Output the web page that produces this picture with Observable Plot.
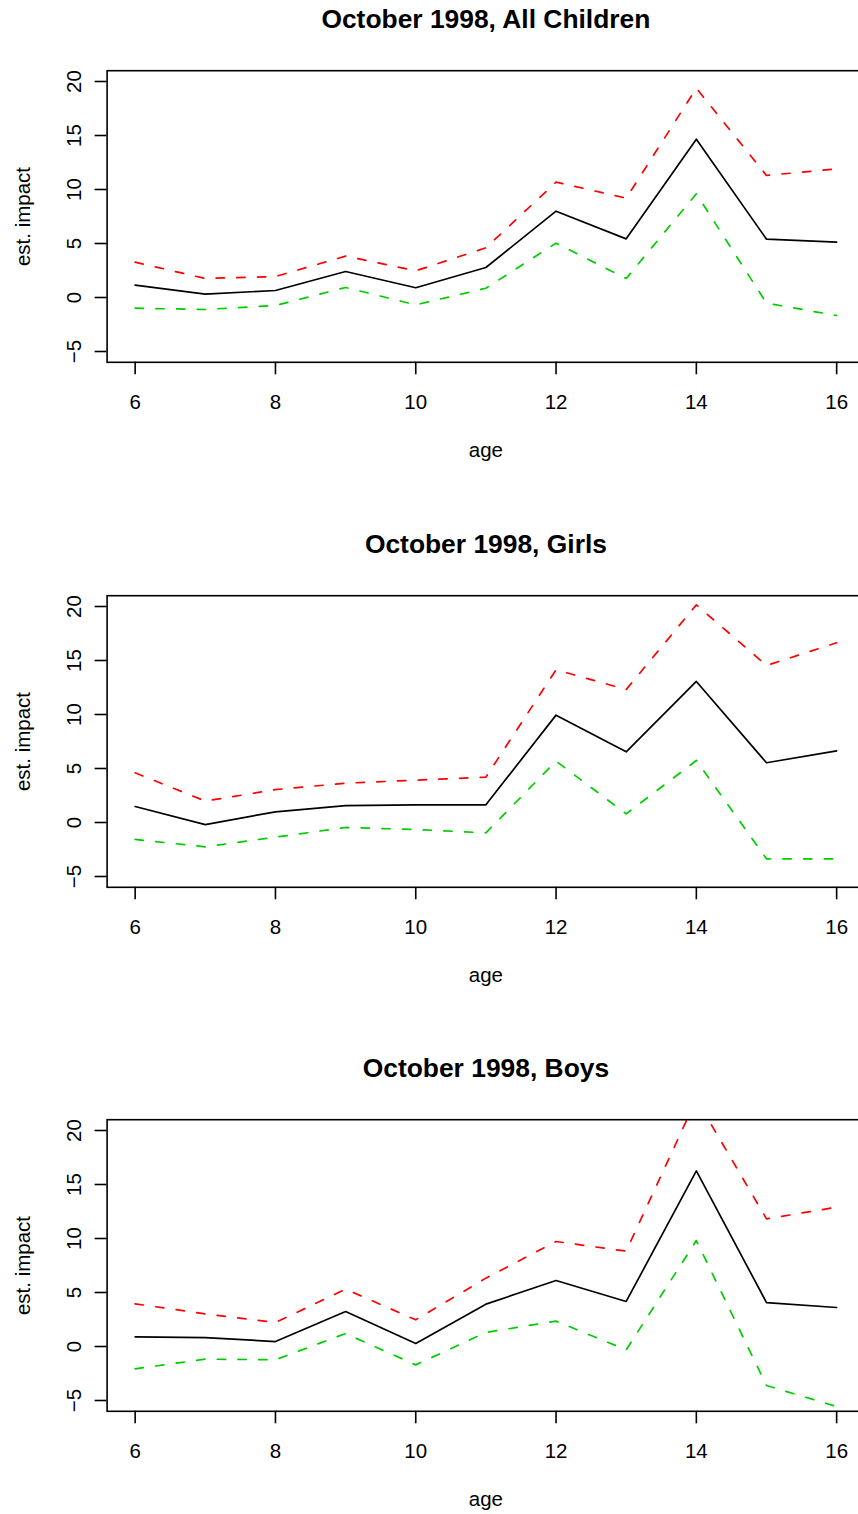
<!DOCTYPE html>
<html>
<head>
<meta charset="utf-8">
<script src="https://cdn.jsdelivr.net/npm/d3@7"></script>
<script src="https://cdn.jsdelivr.net/npm/@observablehq/plot@0.6"></script>
<style>
  html, body { margin: 0; padding: 0; background: white; overflow: hidden; width: 858px; height: 1514px; }
  .panel { position: absolute; left: 0; width: 858px; }
</style>
</head>
<body>
<div id="p0" class="panel" style="top:0px"></div>
<div id="p1" class="panel" style="top:525px"></div>
<div id="p2" class="panel" style="top:1049px"></div>
<script>
const ages = [6, 7, 8, 9, 10, 11, 12, 13, 14, 15, 16];

const allEst   = [1.14, 0.31, 0.65, 2.41, 0.90, 2.78, 7.99, 5.43, 14.66, 5.40, 5.12];
const allUpper = [3.27, 1.76, 1.94, 3.83, 2.47, 4.60, 10.68, 9.20, 19.38, 11.30, 11.91];
const allLower = [-0.99, -1.11, -0.74, 0.93, -0.68, 0.86, 5.03, 1.76, 9.60, -0.52, -1.67];

const girlsEst   = [1.48, -0.19, 0.99, 1.57, 1.64, 1.64, 9.94, 6.54, 13.06, 5.53, 6.64];
const girlsUpper = [4.60, 1.98, 3.05, 3.64, 3.92, 4.20, 14.14, 12.31, 20.15, 14.54, 16.64];
const girlsLower = [-1.57, -2.25, -1.36, -0.46, -0.65, -0.96, 5.68, 0.80, 5.74, -3.36, -3.36];

const boysEst   = [0.90, 0.83, 0.46, 3.24, 0.28, 3.92, 6.11, 4.17, 16.26, 4.07, 3.61];
const boysUpper = [3.95, 3.02, 2.22, 5.31, 2.47, 6.33, 9.72, 8.83, 22.9, 11.82, 12.90];
const boysLower = [-2.07, -1.17, -1.23, 1.20, -1.70, 1.30, 2.35, -0.31, 9.81, -3.61, -5.56];

const titles = ["October 1998, All Children", "October 1998, Girls", "October 1998, Boys"];
const xLabel = "age";
const yLabel = "est. impact";
const xTicks = [6, 8, 10, 12, 14, 16];
const yTicks = [-5, 0, 5, 10, 15, 20];

const panels = [
  {title: titles[0], est: allEst, upper: allUpper, lower: allLower},
  {title: titles[1], est: girlsEst, upper: girlsUpper, lower: girlsLower},
  {title: titles[2], est: boysEst, upper: boysUpper, lower: boysLower}
];

const font = "'Liberation Sans', Arial, Helvetica, sans-serif";
const fs = 20.5;
const mL = 106.6, mT = 70.2, mB = 163.2, mR = -6.2;

panels.forEach((p, k) => {
  const rows = ages.map((a, i) => ({age: a, est: p.est[i], upper: p.upper[i], lower: p.lower[i]}));
  const chart = Plot.plot({
    width: 858,
    height: 525,
    marginLeft: mL,
    marginRight: mR,
    marginTop: mT,
    marginBottom: mB,
    x: {domain: [5.6, 16.4]},
    y: {domain: [-6, 21]},
    style: {fontFamily: font, background: "white", color: "black"},
    marks: [
      Plot.line(rows, {x: "age", y: "est", stroke: "black", strokeWidth: 1.7, clip: true}),
      Plot.line(rows, {x: "age", y: "upper", stroke: "#FF0000", strokeWidth: 1.7, strokeDasharray: "8.3,12.4", clip: true}),
      Plot.line(rows, {x: "age", y: "lower", stroke: "#00CD00", strokeWidth: 1.7, strokeDasharray: "8.3,12.4", clip: true}),
      Plot.frame({stroke: "black", strokeWidth: 1.6}),
      Plot.axisX(xTicks, {tickSize: 12.5, tickFormat: () => "", label: null, strokeWidth: 1.6}),
      Plot.axisY(yTicks, {tickSize: 12, tickFormat: () => "", label: null, strokeWidth: 1.6}),
      Plot.text(xTicks, {x: d => d, frameAnchor: "bottom", lineAnchor: "bottom", dy: 46.6, fontSize: fs, text: d => String(d)}),
      Plot.text(yTicks, {y: d => d, frameAnchor: "left", rotate: -90, textAnchor: "middle", lineAnchor: "bottom", dx: -26.6, fontSize: fs, text: d => d < 0 ? "\u2212" + Math.abs(d) : String(d)}),
      Plot.text([yLabel], {frameAnchor: "left", rotate: -90, textAnchor: "middle", lineAnchor: "bottom", dx: -77.3, fontSize: fs, text: d => d}),
      Plot.text([xLabel], {frameAnchor: "bottom", lineAnchor: "bottom", dy: 94.2, fontSize: fs, text: d => d}),
      Plot.text([p.title], {frameAnchor: "top", lineAnchor: "bottom", dy: -42.7, fontSize: 26.4, fontWeight: "bold", text: d => d})
    ]
  });
  document.getElementById("p" + k).appendChild(chart);
});
</script>
</body>
</html>
